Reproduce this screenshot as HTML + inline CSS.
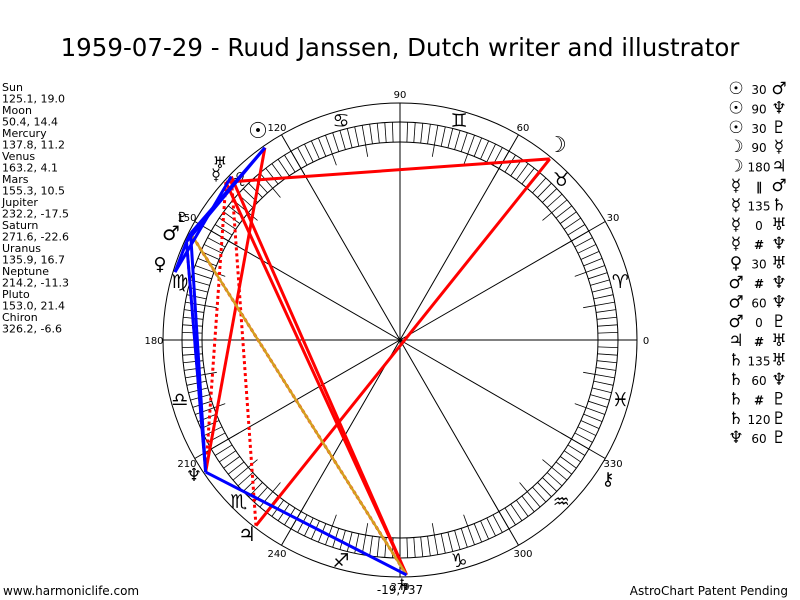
<!DOCTYPE html>
<html><head><meta charset="utf-8"><style>
html,body{margin:0;padding:0;background:#fff;width:800px;height:600px;overflow:hidden}
svg{display:block}
</style></head><body>
<svg id="s" width="800" height="600" xmlns="http://www.w3.org/2000/svg" font-family="DejaVu Sans, Liberation Sans, sans-serif">
<rect width="800" height="600" fill="#fff"/>
<text x="400" y="56" font-size="24.5" text-anchor="middle" font-family="DejaVu Sans, sans-serif">1959-07-29 - Ruud Janssen, Dutch writer and illustrator</text>
<g font-size="11" fill="#000">
<text x="2" y="91">Sun</text><text x="2" y="102.5">125.1, 19.0</text>
<text x="2" y="114">Moon</text><text x="2" y="125.5">50.4, 14.4</text>
<text x="2" y="137">Mercury</text><text x="2" y="148.5">137.8, 11.2</text>
<text x="2" y="160">Venus</text><text x="2" y="171.5">163.2, 4.1</text>
<text x="2" y="183">Mars</text><text x="2" y="194.5">155.3, 10.5</text>
<text x="2" y="206">Jupiter</text><text x="2" y="217.5">232.2, -17.5</text>
<text x="2" y="229">Saturn</text><text x="2" y="240.5">271.6, -22.6</text>
<text x="2" y="252">Uranus</text><text x="2" y="263.5">135.9, 16.7</text>
<text x="2" y="275">Neptune</text><text x="2" y="286.5">214.2, -11.3</text>
<text x="2" y="298">Pluto</text><text x="2" y="309.5">153.0, 21.4</text>
<text x="2" y="321">Chiron</text><text x="2" y="332.5">326.2, -6.6</text>
</g>
<g id="leg" font-size="12"></g>
<g id="chart"></g>
<text x="3" y="595" font-size="12">www.harmoniclife.com</text>
<text x="788" y="595" font-size="12" text-anchor="end">AstroChart Patent Pending</text>
</svg>
<script>
var cx=400,cy=340,R=237;
var g=document.getElementById('chart'),h="";
function P(a,r){var t=a*Math.PI/180;return [cx+r*Math.cos(t),cy-r*Math.sin(t)];}
h+='<circle cx="400" cy="340" r="237" fill="none" stroke="#000" stroke-width="1"/>';
h+='<circle cx="400" cy="340" r="218" fill="none" stroke="#000" stroke-width="1"/>';
h+='<circle cx="400" cy="340" r="198" fill="none" stroke="#000" stroke-width="1"/>';
for(var a=0;a<360;a+=2){var r2=(a%10==0)?186:198;var p=P(a,218),q=P(a,r2);h+='<line x1="'+p[0]+'" y1="'+p[1]+'" x2="'+q[0]+'" y2="'+q[1]+'" stroke="#000" stroke-width="0.8"/>';}
for(var a=0;a<360;a+=30){var p=P(a,237);h+='<line x1="400" y1="340" x2="'+p[0]+'" y2="'+p[1]+'" stroke="#000" stroke-width="1"/>';
 var l=P(a,246);h+='<text x="'+l[0]+'" y="'+(l[1]+4)+'" font-size="10" text-anchor="middle">'+a+'</text>';}
h+='<text x="400" y="594" font-size="12" text-anchor="middle">-19,737</text>';
var signs=["♈","♉","♊","♋","♌","♍","♎","♏","♐","♑","♒","♓"];
for(var i=0;i<12;i++){var p=P(15+30*i,228);h+='<text x="'+p[0]+'" y="'+(p[1]+7)+'" font-size="19" text-anchor="middle">'+signs[i]+'</text>';}
var pl={Su:125.1,Mo:50.4,Me:137.8,Ve:163.2,Ma:155.3,Ju:232.2,Sa:271.6,Ur:135.9,Ne:214.2,Pl:153.0,Ch:326.2};
function L(a,b,c,w,d){var p=P(pl[a],235),q=P(pl[b],235);h+='<line x1="'+p[0]+'" y1="'+p[1]+'" x2="'+q[0]+'" y2="'+q[1]+'" stroke="'+c+'" stroke-width="'+w+'"'+(d?' stroke-dasharray="3,3"':'')+'/>';}
var red="#ff0000",blue="#0000ff";
L("Su","Ne",red,3);L("Mo","Me",red,3);L("Mo","Ju",red,3);L("Me","Sa",red,3);L("Ur","Sa",red,3);
L("Me","Ne",red,3,1);L("Ma","Ne",red,3,1);L("Ju","Ur",red,3,1);L("Sa","Pl",red,3,1);
L("Sa","Pl","#d4a020",2.5);
L("Su","Ma",blue,3);L("Su","Pl",blue,3);L("Ve","Ur",blue,3);L("Ma","Ne",blue,3);L("Sa","Ne",blue,3);L("Ne","Pl",blue,3);L("Ma","Pl",blue,3);L("Ma","Ve",blue,3);
var gl=[["☉",258,138,22],["♅",220,168,16],["☿",216,180,16],["♇",182,222,14],["♂",171,240,20],["♀",160,270,18],["☽",557,152,22],["♃",247,541,20],["♆",194,481,18],["♄",404,590,16],["⚷",608,485,18]];
gl.forEach(function(x){h+='<text x="'+x[1]+'" y="'+x[2]+'" font-size="'+x[3]+'" text-anchor="middle">'+x[0]+'</text>';});
g.innerHTML=h;
var leg=[["☉","30","♂"],["☉","90","♆"],["☉","30","♇"],["☽","90","☿"],["☽","180","♃"],["☿","∥","♂"],["☿","135","♄"],["☿","0","♅"],["☿","#","♆"],["♀","30","♅"],["♂","#","♆"],["♂","60","♆"],["♂","0","♇"],["♃","#","♅"],["♄","135","♅"],["♄","60","♆"],["♄","#","♇"],["♄","120","♇"],["♆","60","♇"]];
var lh="";leg.forEach(function(r,i){var y=94+i*19.4;lh+='<text x="736" y="'+y+'" font-size="17" font-weight="bold" text-anchor="middle">'+r[0]+'</text><text x="759" y="'+y+'" font-size="12" text-anchor="middle" font-weight="'+(r[1]=="#"||r[1]=="∥"?"bold":"normal")+'">'+r[1]+'</text><text x="779" y="'+y+'" font-size="17" font-weight="bold" text-anchor="middle">'+r[2]+'</text>';});
document.getElementById('leg').innerHTML=lh;
</script>
</body></html>
